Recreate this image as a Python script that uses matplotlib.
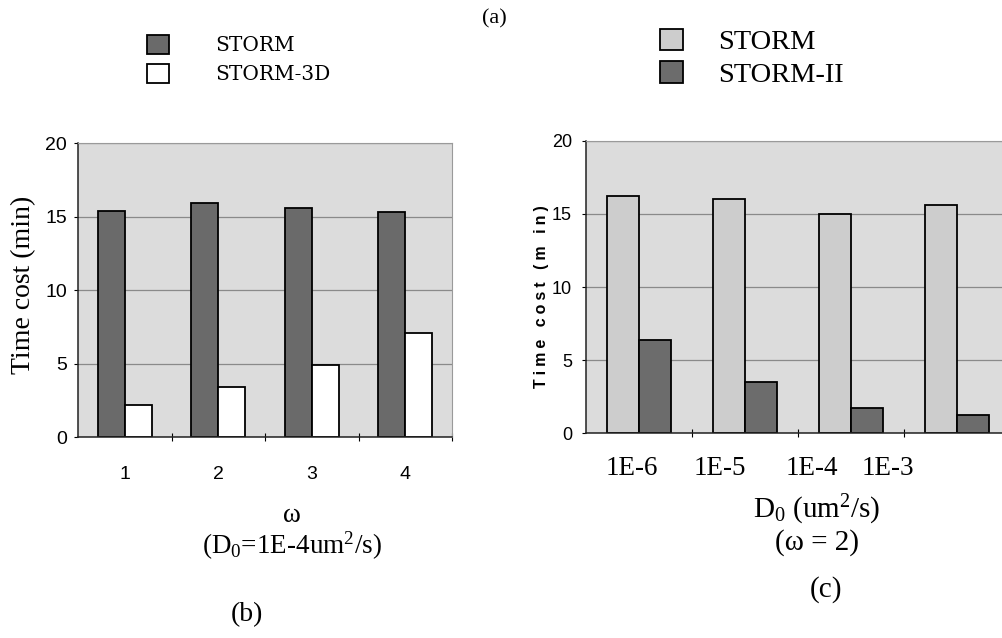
import matplotlib
matplotlib.use('Agg')
import matplotlib.pyplot as plt
import numpy as np

# ---------------- data ----------------
omega_labels = ['1', '2', '3', '4']
storm_b = [15.4, 15.9, 15.6, 15.3]
storm3d_b = [2.2, 3.4, 4.9, 7.1]

d0_labels = ['1E-6', '1E-5', '1E-4', '1E-3']
storm_c = [16.2, 16.0, 15.0, 15.6]
storm2_c = [6.4, 3.5, 1.7, 1.25]

y_ticks = [0, 5, 10, 15, 20]

# ---------------- style ----------------
plt.rcParams['mathtext.fontset'] = 'custom'
plt.rcParams['mathtext.rm'] = 'Liberation Serif'
plt.rcParams['mathtext.it'] = 'Liberation Serif:italic'
plt.rcParams['mathtext.bf'] = 'Liberation Serif:bold'

SERIF = ['Liberation Serif', 'DejaVu Serif']
NARROW = ['Liberation Sans Narrow', 'Liberation Sans', 'DejaVu Sans']
BG = '#dcdcdc'

fig = plt.figure(figsize=(10.03, 6.38), dpi=100)
fig.patch.set_facecolor('white')

axb = fig.add_axes([0.0778, 0.3150, 0.3729, 0.4608])
axc = fig.add_axes([0.5842, 0.3208, 0.4227, 0.4586])


def style_axes(ax, ypad, lsize):
    ax.set_facecolor(BG)
    ax.set_ylim(0, 20)
    ax.set_xlim(-0.5, 3.5)
    ax.set_yticks(y_ticks)
    ax.yaxis.grid(True, color='#8a8a8a', lw=0.9)
    ax.set_axisbelow(True)
    for s in ['top', 'right']:
        ax.spines[s].set_color('#9a9a9a')
        ax.spines[s].set_linewidth(0.8)
    for s in ['left', 'bottom']:
        ax.spines[s].set_color('#222222')
        ax.spines[s].set_linewidth(1.1)
    ax.tick_params(axis='y', direction='out', length=3, width=0.8,
                   pad=ypad, labelsize=lsize)
    for t in ax.get_yticklabels():
        t.set_family(NARROW)
    ax.set_xticks([0.5, 1.5, 2.5, 3.5])
    ax.set_xticklabels([])
    ax.tick_params(axis='x', which='major', direction='inout',
                   length=6, width=0.8)


x = np.arange(len(omega_labels))
w = 0.29

# ---------------- (b) ----------------
style_axes(axb, 5, 14)
b1 = axb.bar(x - 0.145, storm_b, w, color='#6a6a6a', edgecolor='black',
             lw=1.3, label='STORM')
b2 = axb.bar(x + 0.145, storm3d_b, w, color='white', edgecolor='black',
             lw=1.3, label='STORM-3D')
axb.set_xticks(x, minor=True)
axb.set_xticklabels(omega_labels, minor=True)
axb.tick_params(axis='x', which='minor', length=0, pad=21, labelsize=14)
for t in axb.get_xticklabels(minor=True):
    t.set_family(NARROW)

axb.set_ylabel('Time cost (min)', family=SERIF, fontsize=20)
axb.yaxis.set_label_coords(-0.112, 0.517)
axb.set_xlabel('\u03c9\n(D$_\\mathrm{0}$=1E-4um$^\\mathrm{2}$/s)',
               family=SERIF, fontsize=19.5, linespacing=1.1)
axb.xaxis.label.set_verticalalignment('center')
axb.xaxis.set_label_coords(0.572, -0.325)

fig.legend(handles=[b1, b2], labels=['STORM', 'STORM-3D'],
           loc='upper left', bbox_to_anchor=(0.1466, 0.945),
           frameon=False, borderpad=0, borderaxespad=0,
           handlelength=1.07, handleheight=1.07, handletextpad=2.3,
           labelspacing=0.42, prop={'family': 'DejaVu Serif', 'size': 14.5})

# ---------------- (c) ----------------
style_axes(axc, 7, 13)
c1 = axc.bar(x - 0.15, storm_c, 0.3, color='#cdcdcd', edgecolor='black',
             lw=1.3, label='STORM')
c2 = axc.bar(x + 0.15, storm2_c, 0.3, color='#6c6c6c', edgecolor='black',
             lw=1.3, label='STORM-II')
axc.set_xticks([-0.07, 0.76, 1.63, 2.35], minor=True)
axc.set_xticklabels(d0_labels, minor=True)
axc.tick_params(axis='x', which='minor', length=0, pad=16, labelsize=19.5)
for t in axc.get_xticklabels(minor=True):
    t.set_family(SERIF)

sp = '\u2005'
axc.set_ylabel(sp.join('Time cost (m in)'),
               family=['Liberation Sans', 'DejaVu Sans'], fontweight='bold',
               fontsize=11.5)
axc.yaxis.set_label_coords(-0.088, 0.466)
axc.set_xlabel('D$_\\mathrm{0}$ (um$^\\mathrm{2}$/s)\n(\u03c9 = 2)',
               family=SERIF, fontsize=21, linespacing=1.1)
axc.xaxis.label.set_verticalalignment('center')
axc.xaxis.set_label_coords(0.545, -0.313)

fig.legend(handles=[c1, c2], labels=['STORM', 'STORM-II'],
           loc='upper left', bbox_to_anchor=(0.658, 0.955),
           frameon=False, borderpad=0, borderaxespad=0,
           handlelength=0.8, handleheight=0.8, handletextpad=1.25,
           labelspacing=0.2, prop={'family': SERIF, 'size': 20.5})

# ---------------- panel tags ----------------
fig.text(494 / 1003, 1 - 19 / 638, '(a)', family=SERIF, fontsize=16,
         ha='center', va='center')
fig.text(247 / 1003, 1 - 615 / 638, '(b)', family=SERIF, fontsize=20,
         ha='center', va='center')
fig.text(826 / 1003, 1 - 590 / 638, '(c)', family=SERIF, fontsize=21,
         ha='center', va='center')

fig.savefig('out.png', dpi=100, facecolor='white')
